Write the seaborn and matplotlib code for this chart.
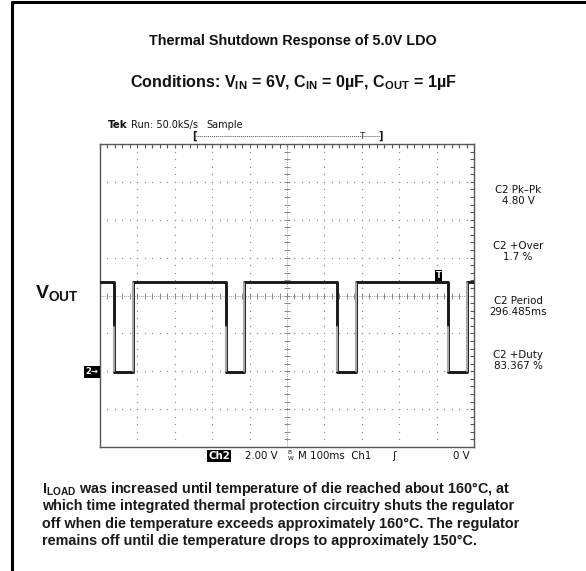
import numpy as np
import matplotlib
matplotlib.use("Agg")
import matplotlib.pyplot as plt
import seaborn as sns

# ---- waveform data (ms from left edge of screen, volts) ----
fall_ms = [37, 337, 635, 931]      # regulator shuts off
rise_ms = [88, 385, 684, 981]      # regulator turns back on
v_on = 4.72                        # output level while regulating
v_off = -0.04                      # output level during shutdown
v_edge_break = 2.35                # where the falling edge turns faint

# ---- scope readouts ----
meas_names = ["C2 Pk\u2013Pk", "C2 +Over", "C2 Period", "C2 +Duty"]
meas_values = ["4.80 V", "1.7 %", "296.485ms", "83.367 %"]
volts_per_div = 2.0
ms_per_div = 100
n_xdiv, n_ydiv = 10, 8
ground_div = -2                    # ground level, divisions from center

title = "Thermal Shutdown Response of 5.0V LDO"
conditions = (r"Conditions: V$_{\mathrm{IN}}$ = 6V, C$_{\mathrm{IN}}$ = 0µF, "
              r"C$_{\mathrm{OUT}}$ = 1µF")
note_lines = [
    r"I$_{\mathrm{LOAD}}$ was increased until temperature of die reached about 160°C, at",
    "which time integrated thermal protection circuitry shuts the regulator",
    "off when die temperature exceeds approximately 160°C. The regulator",
    "remains off until die temperature drops to approximately 150°C.",
]

sns.set_theme(style="white")
plt.rcParams["font.family"] = ["Liberation Sans", "DejaVu Sans"]
plt.rcParams["mathtext.fontset"] = "custom"
plt.rcParams["mathtext.rm"] = "Liberation Sans:bold"
plt.rcParams["mathtext.bf"] = "Liberation Sans:bold"
plt.rcParams["mathtext.it"] = "Liberation Sans:bold"
plt.rcParams["mathtext.sf"] = "DejaVu Sans"

W, H = 586, 571
fig = plt.figure(figsize=(W / 100, H / 100), dpi=100)
fig.patch.set_facecolor("white")


def fx(x):
    return x / W


def fy(y):
    return 1 - y / H


# outer frame (top and left)
fig.add_artist(plt.Line2D([fx(12), fx(12)], [fy(1.5), fy(571)], color="black", lw=2.2))
fig.add_artist(plt.Line2D([fx(12), fx(586)], [fy(1.5), fy(1.5)], color="black", lw=2.2))

# headings
fig.text(fx(293), fy(41), title, ha="center", va="center", fontsize=10.4,
         fontweight="bold", color="#111")
fig.text(fx(293), fy(83), conditions, ha="center", va="center", fontsize=11.6,
         fontweight="bold", color="#111")

# ---- scope screen ----
L, R, T, B = 100, 474, 144, 447
ax = fig.add_axes([fx(L), fy(B), (R - L) / W, (B - T) / H])
center_v = -ground_div * volts_per_div
ymin = center_v - n_ydiv / 2 * volts_per_div
ymax = center_v + n_ydiv / 2 * volts_per_div
xmax = n_xdiv * ms_per_div
ax.set_xlim(0, xmax)
ax.set_ylim(ymin, ymax)
ax.set_facecolor("white")

xmaj = np.arange(0, xmax + 1, ms_per_div)
ymaj = np.arange(ymin, ymax + 0.01, volts_per_div)
xmin_t = np.arange(0, xmax + 1, ms_per_div / 5)
ymin_t = np.arange(ymin, ymax + 0.01, volts_per_div / 5)

ax.set_xticks(xmaj)
ax.set_yticks(ymaj)
ax.set_xticks(xmin_t, minor=True)
ax.set_yticks(ymin_t, minor=True)
ax.tick_params(which="both", direction="in", length=3.2, width=0.8, color="#555",
               top=True, right=True, labelbottom=False, labelleft=False)
for s in ax.spines.values():
    s.set_color("#555")
    s.set_linewidth(1.0)

# graticule dots
gx, gy = [], []
for xv in xmaj[1:-1]:
    if xv == xmax / 2:
        continue
    gx += [xv] * len(ymin_t)
    gy += list(ymin_t)
for yv in ymaj[1:-1]:
    if yv == center_v:
        continue
    gx += list(xmin_t)
    gy += [yv] * len(xmin_t)
ax.scatter(gx, gy, s=0.9, color="#8a8a8a", linewidths=0, zorder=1)

# center cross with ticks
ax.axvline(xmax / 2, color="#9a9a9a", lw=0.7, ls=(0, (1, 1.2)), zorder=1)
ax.axhline(center_v, color="#9a9a9a", lw=0.7, ls=(0, (1, 1.2)), zorder=1)
ax.plot(np.full(len(ymin_t), xmax / 2), ymin_t, ls="none", marker="_",
        ms=5, mew=0.7, color="#888", zorder=1)
ax.plot(xmin_t, np.full(len(xmin_t), center_v), ls="none", marker="|",
        ms=5, mew=0.7, color="#888", zorder=1)

# output voltage trace
t = [0.0]
v = [v_on]
for f, r in zip(fall_ms, rise_ms):
    t += [f, f, r, r]
    v += [v_on, v_off, v_off, v_on]
t.append(xmax)
v.append(v_on)
sns.lineplot(x=t, y=v, sort=False, estimator=None, color="#1a1a1a", lw=2.1,
             ax=ax, zorder=3)
for r in rise_ms:
    ax.plot([r, r], [v_off + 0.06, v_on - 0.06], color="#a8a8a8", lw=1.5, zorder=4)
for f in fall_ms:
    ax.plot([f, f], [v_off + 0.06, v_edge_break], color="#a8a8a8", lw=1.5, zorder=4)

# trigger marker sitting on the trace
ax.text(905, v_on + 0.12, "T", ha="center", va="bottom", fontsize=6,
        family="DejaVu Sans", fontweight="bold", color="white", zorder=5,
        bbox=dict(boxstyle="square,pad=0.12", fc="black", ec="none"))

# ---- readouts around the screen ----
sf = "DejaVu Sans"
fs = 7.4
fig.text(fx(108), fy(125), "Tek", fontsize=fs, family=sf, fontweight="bold",
         va="center", ha="left", color="#111")
fig.text(fx(131), fy(125), "Run: 50.0kS/s", fontsize=7.0, family=sf,
         va="center", ha="left", color="#111")
fig.text(fx(206), fy(125), "Sample", fontsize=7.0, family=sf,
         va="center", ha="left", color="#111")

# acquisition record bracket
fig.add_artist(plt.Line2D([fx(194), fx(380)], [fy(136), fy(136)], color="#555",
                          lw=0.7, ls=(0, (1, 1))))
fig.text(fx(194), fy(136), "[", fontsize=7, family=sf, ha="center", va="center",
         color="#111", fontweight="bold")
fig.text(fx(381), fy(136), "]", fontsize=7, family=sf, ha="center", va="center",
         color="#111", fontweight="bold")
fig.text(fx(362), fy(136), "T", fontsize=6.5, family=sf, ha="center", va="center",
         color="#333")

meas_y = [190, 246, 301, 355]
for name, val, yy in zip(meas_names, meas_values, meas_y):
    fig.text(fx(518), fy(yy), name, fontsize=fs, family=sf, ha="center",
             va="center", color="#111")
    fig.text(fx(518), fy(yy + 11), val, fontsize=fs, family=sf, ha="center",
             va="center", color="#111")

# ground marker for channel 2
fig.text(fx(92), fy(372), "2\u2192", fontsize=6, family=sf, fontweight="bold",
         ha="center", va="center", color="white",
         bbox=dict(boxstyle="square,pad=0.15", fc="black", ec="none"))

# bottom status line
fig.text(fx(219), fy(456), "Ch2", fontsize=fs, family=sf, fontweight="bold",
         ha="center", va="center", color="white",
         bbox=dict(boxstyle="square,pad=0.1", fc="black", ec="none"))
fig.text(fx(245), fy(456), "2.00 V", fontsize=fs, family=sf, ha="left",
         va="center", color="#111")
fig.text(fx(287), fy(456), r"$^{\mathsf{B}}_{\mathsf{W}}$", fontsize=6, ha="left",
         va="center", color="#111")
fig.text(fx(298), fy(456), "M 100ms  Ch1", fontsize=fs, family=sf, ha="left",
         va="center", color="#111")
fig.text(fx(392), fy(456), "\u0283", fontsize=fs, family=sf, ha="left",
         va="center", color="#111")
fig.text(fx(470), fy(456), "0 V", fontsize=fs, family=sf, ha="right",
         va="center", color="#111")

# channel label
fig.text(fx(35), fy(293), r"V$_{\mathrm{OUT}}$", fontsize=14, fontweight="bold",
         ha="left", va="center", color="#111")

# explanatory note
for i, line in enumerate(note_lines):
    fig.text(fx(42), fy(489 + i * 17.3), line, fontsize=10.4, fontweight="bold",
             ha="left", va="center", color="#1a1a1a")

fig.savefig("out.png", dpi=100, facecolor="white")
